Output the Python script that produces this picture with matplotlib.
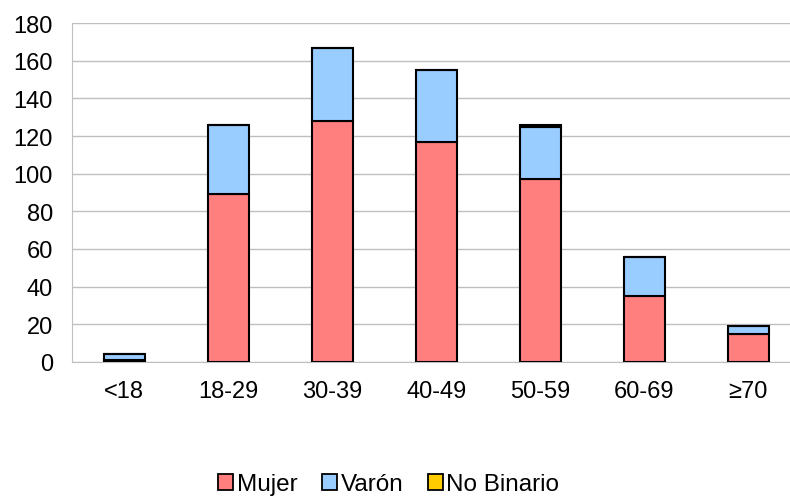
import matplotlib.pyplot as plt
import numpy as np
from matplotlib.patches import Patch

plt.rcParams['font.family'] = ['Liberation Sans', 'DejaVu Sans']

# Datos por grupo de edad
grupos = ['<18', '18-29', '30-39', '40-49', '50-59', '60-69', '≥70']
mujer = [1, 89, 128, 117, 97, 35, 15]
varon = [3, 37, 39, 38, 28, 21, 4]
no_binario = [0, 0, 0, 0, 1, 0, 0]

colores = ['#FF7F7F', '#99CCFF', '#FFCC00']
nombres = ['Mujer', 'Varón', 'No Binario']

fig = plt.figure(figsize=(7.9, 5.02), dpi=100)
ax = fig.add_axes([0.0915, 0.277, 0.9085, 0.675])

x = np.arange(len(grupos))
bottom = np.zeros(len(grupos))
for serie, color in zip([mujer, varon, no_binario], colores):
    vals = np.array(serie)
    ax.bar(x, vals, 0.39, bottom=bottom, color=color, edgecolor='black', linewidth=1.5, zorder=3)
    bottom += vals

ax.set_ylim(0, 180)
ax.set_yticks(range(0, 181, 20))
ax.set_xlim(-0.5, 6.4)
ax.set_xticks(x)
ax.set_xticklabels(grupos)
ax.grid(axis='y', color='#BFBFBF', linewidth=1, zorder=0)
ax.tick_params(axis='y', length=0, labelsize=17, pad=14)
ax.tick_params(axis='x', length=0, labelsize=17, pad=13)
for s in ['top', 'right']:
    ax.spines[s].set_visible(False)
for s in ['left', 'bottom']:
    ax.spines[s].set_color('#BFBFBF')

handles = [Patch(facecolor=c, edgecolor='black', linewidth=1.3) for c in colores]
fig.legend(handles, nombres, loc='lower center', bbox_to_anchor=(0.492, -0.032), ncol=3, frameon=False,
           fontsize=17.5, handlelength=0.62, handleheight=0.62, handletextpad=0.15, columnspacing=1.0)

fig.savefig('out.png', dpi=100)
